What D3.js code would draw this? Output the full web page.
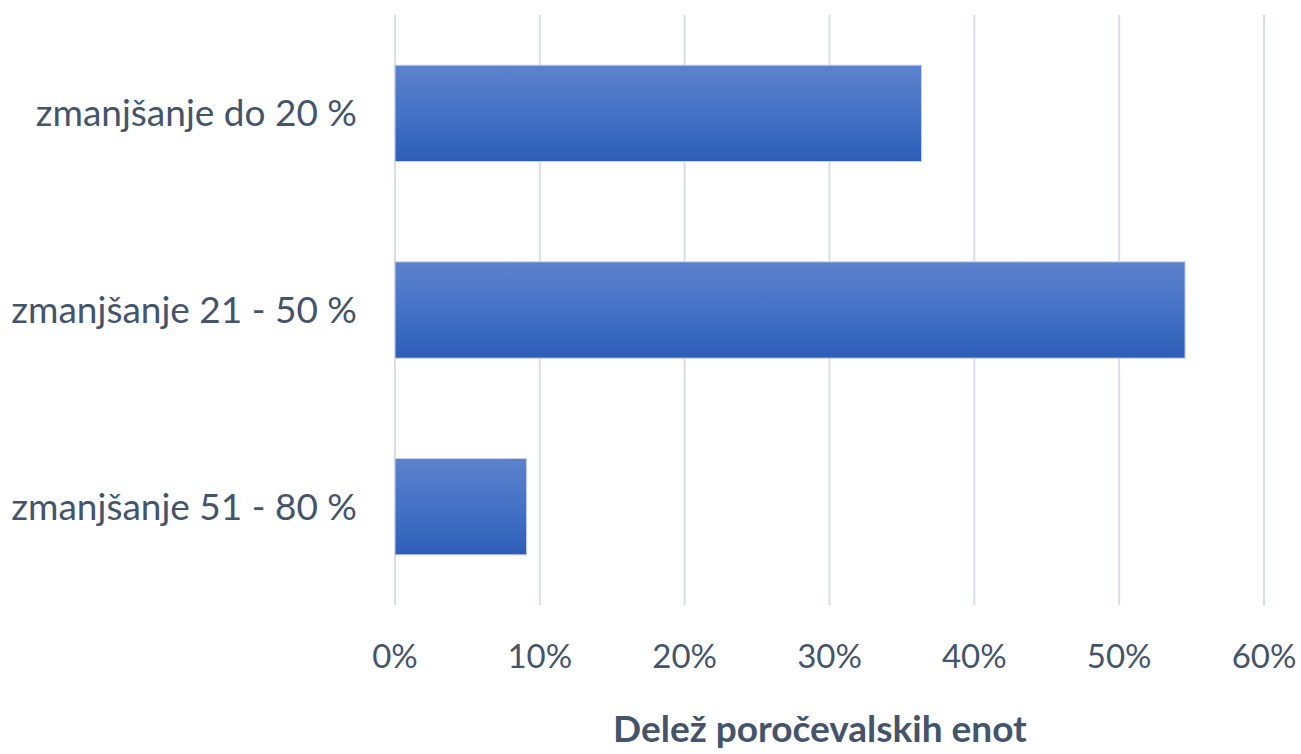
<!DOCTYPE html>
<html><head><meta charset="utf-8">
<script src="https://cdn.jsdelivr.net/npm/d3@7"></script>
<style>body{margin:0;background:#fff}svg{display:block}</style>
</head><body>
<svg id="c" width="1301" height="754"></svg>
<script>
const categories = ["zmanjšanje do 20 %", "zmanjšanje 21 - 50 %", "zmanjšanje 51 - 80 %"];
const values = [0.3636, 0.5455, 0.0909];
const ticks = [0, 0.1, 0.2, 0.3, 0.4, 0.5, 0.6];
const axisTitle = "Delež poročevalskih enot";

(function(){
const svg = d3.select("#c");
const mL = 395, mR = 1264, mT = 15, mB = 605;
const x = d3.scaleLinear().domain([0, 0.6]).range([mL, mR]);
const y = d3.scaleBand().domain(categories).range([mT, mB]).paddingInner(0.51).paddingOuter(0.255);

const defs = svg.append("defs");
const g = defs.append("linearGradient").attr("id","bg").attr("x1",0).attr("y1",0).attr("x2",0).attr("y2",1);
g.append("stop").attr("offset","0%").attr("stop-color","#5d82cc");
g.append("stop").attr("offset","50%").attr("stop-color","#4472c6");
g.append("stop").attr("offset","100%").attr("stop-color","#2d5db7");

const font = "Lato, 'Open Sans', sans-serif";
const col = "#44546a";

svg.append("g").selectAll("line").data(ticks).join("line")
  .attr("x1", d => x(d)).attr("x2", d => x(d))
  .attr("y1", mT).attr("y2", mB)
  .attr("stroke", "#d9dde6").attr("stroke-width", 2);

svg.append("g").selectAll("rect").data(values).join("rect")
  .attr("x", x(0)).attr("y", (d,i) => y(categories[i]))
  .attr("width", d => x(d) - x(0)).attr("height", y.bandwidth())
  .attr("fill", "url(#bg)").attr("stroke", "#c9d3ea").attr("stroke-width", 1);

svg.append("g").selectAll("text").data(categories).join("text")
  .attr("x", 357).attr("y", d => y(d) + y.bandwidth()/2)
  .attr("dy", "0.35em").attr("text-anchor", "end")
  .attr("font-family", font).attr("font-size", 37).attr("fill", col)
  .text(d => d);

svg.append("g").selectAll("text").data(ticks).join("text")
  .attr("x", d => x(d)).attr("y", 668).attr("text-anchor", "middle")
  .attr("font-family", font).attr("font-size", 33).attr("fill", col)
  .text(d => d3.format(".0%")(d));

svg.append("text").attr("x", 820).attr("y", 742).attr("text-anchor", "middle")
  .attr("font-family", font).attr("font-size", 37).attr("font-weight", "bold").attr("fill", col)
  .text(axisTitle);
})();
</script>
</body></html>
